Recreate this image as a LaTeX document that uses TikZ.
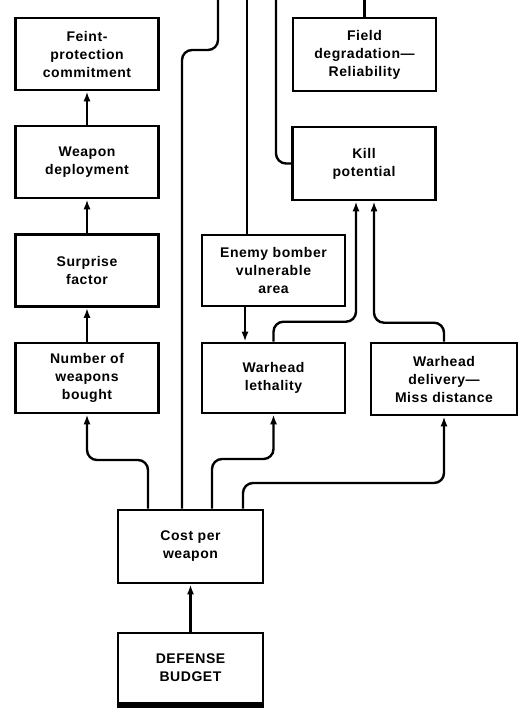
\documentclass[tikz,border=0pt]{standalone}
\usepackage{fontspec}
\setmainfont{Liberation Sans}[LetterSpace=4]
\usetikzlibrary{arrows.meta,calc}
\begin{document}
\begin{tikzpicture}[x=1pt,y=-1pt,
  box/.style={draw,line width=2.6pt,minimum width=143pt,minimum height=72pt,inner sep=0pt,align=center,
    font=\fontsize{14}{18}\selectfont\bfseries},
  link/.style={line width=2.4pt,rounded corners=10pt},
  arr/.style={link,-{Latex[length=10pt,width=7pt]}}]
\useasboundingbox (0,0) rectangle (524,719);
% left column
\node[box] (feint) at (87,54) {Feint-\\protection\\commitment};
\node[box] (deploy) at (87,162) {Weapon\\deployment};
\node[box] (surprise) at (87,270.5) {Surprise\\factor};
\node[box,minimum height=70pt] (number) at (87,378) {Number of\\weapons\\bought};
% middle / right
\node[box,minimum height=73pt] (field) at (364.5,54.5) {Field\\degradation—\\Reliability};
\node[box,minimum height=73pt] (kill) at (364,163.5) {Kill\\potential};
\node[box,minimum height=71pt] (enemy) at (273.5,270.5) {Enemy bomber\\vulnerable\\area};
\node[box,minimum height=70pt] (lethal) at (273.5,378) {Warhead\\lethality};
\node[box,minimum width=146pt] (delivery) at (444,379) {Warhead\\delivery—\\Miss distance};
% bottom
\node[box,minimum width=145pt,minimum height=73pt] (cost) at (190.5,546.5) {Cost per\\weapon};
\node[box,minimum width=145pt,minimum height=70pt] (budget) at (190.5,668) {DEFENSE\\BUDGET};
\draw[line width=4pt] ([yshift=-2pt]budget.south west) -- ([yshift=-2pt]budget.south east);
% free ends at the top edge
\coordinate (topA) at (218,0);
\coordinate (topB) at (247,0);
\coordinate (topC) at (276,0);
\coordinate (topD) at (364.5,0);
\coordinate (k1) at ([xshift=-8pt]kill.south);
\coordinate (k2) at ([xshift=10pt]kill.south);
% left chain
\draw[arr] (deploy.north) -- (feint.south);
\draw[arr] (surprise.north) -- (deploy.south);
\draw[arr] (number.north) -- (surprise.south);
% from cost
\draw[arr] ([xshift=-42.5pt]cost.north) |- (87,460) -- (number.south);
\draw[link] ([xshift=-8.5pt]cost.north) -- (182,50) -- (218,50) -- (topA);
\draw[arr] ([xshift=21.5pt]cost.north) |- (273.5,459) -- (lethal.south);
\draw[arr] ([xshift=52.5pt]cost.north) |- (444,483) -- (delivery.south);
\draw[arr] (budget.north) -- (cost.south);
% enemy / lethal
\draw[link] (topB) -- (topB |- enemy.north);
\draw[arr] ([xshift=-28.5pt]enemy.south) -- ([xshift=-28.5pt]lethal.north);
% to kill potential
\draw[arr] (lethal.north) -- ++(0,-20) -| (k1);
\draw[arr] (delivery.north) -- ++(0,-19) -| (k2);
\draw[link] (topC) |- (kill.west);
\draw[link] (topD) -- (field.north);
\end{tikzpicture}
\end{document}
